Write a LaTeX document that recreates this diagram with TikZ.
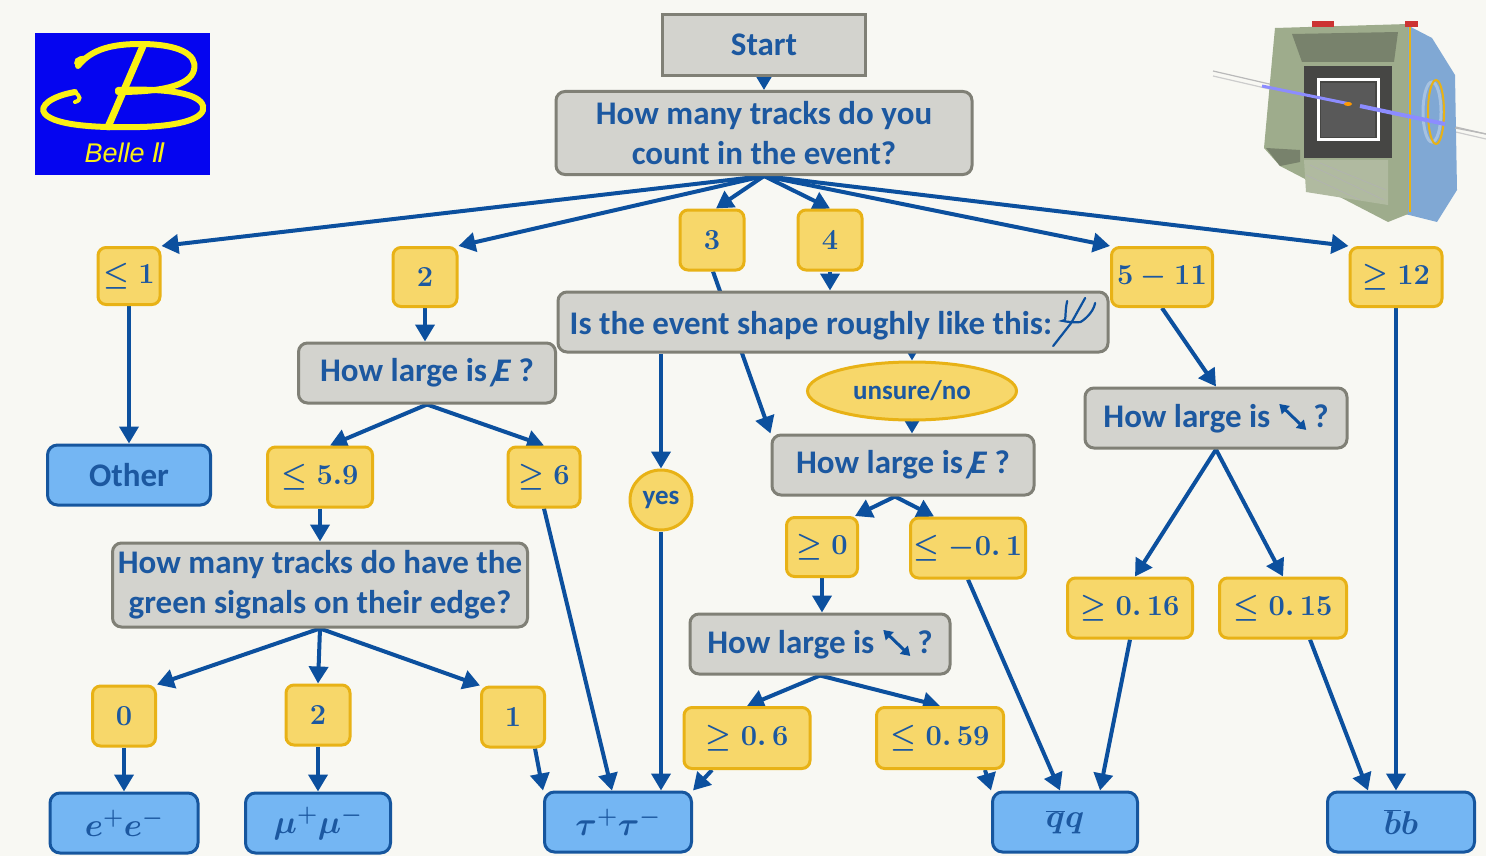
\RequirePackage{fix-cm}
\documentclass[tikz,border=0pt]{standalone}
\usepackage{fontspec}
\setmainfont{Carlito}
\newfontfamily\dejavu{DejaVu Sans}
\newfontfamily\logofont{Liberation Sans}
\usetikzlibrary{arrows.meta,shapes.geometric,calc}

\definecolor{paper}{RGB}{248,248,243}
\definecolor{txt}{RGB}{28,88,160}
\definecolor{wire}{RGB}{12,80,158}
\definecolor{qfill}{RGB}{211,211,206}
\definecolor{qedge}{RGB}{128,128,118}
\definecolor{yfill}{RGB}{247,215,106}
\definecolor{yedge}{RGB}{232,178,22}
\definecolor{tfill}{RGB}{116,182,243}
\definecolor{tedge}{RGB}{22,86,158}
\definecolor{logoblue}{RGB}{5,5,240}
\definecolor{logoyellow}{RGB}{250,240,20}
\definecolor{bodyc}{RGB}{158,172,140}
\definecolor{bodyd}{RGB}{120,130,108}
\definecolor{facec}{RGB}{128,168,212}
\definecolor{innerc}{RGB}{70,70,68}
\definecolor{latticec}{RGB}{176,186,160}

\pgfdeclarelayer{backdrop}
\pgfdeclarelayer{wires}
\pgfsetlayers{backdrop,wires,main}

\newcommand{\qfont}{\fontsize{33}{40}\selectfont\bfseries}
\newcommand{\nfont}{\fontsize{29}{34}\selectfont\boldmath}
% missing transverse energy: slashed italic E
\newcommand{\metE}{\rlap{\kern-0.14em\raisebox{-0.12em}{/}}\textit{E}}
% opening-angle symbol: double-headed diagonal arrow
\newcommand{\angsym}{\tikz[baseline=0pt]\draw[wire,line width=3pt,{Triangle[length=9pt,width=11pt]}-{Triangle[length=9pt,width=11pt]}] (0pt,24pt) -- (27pt,-2pt);}
% event-shape sketch: a track fork
\newcommand{\forksym}{\tikz[baseline=0pt]{\draw[wire,line width=2.2pt,line cap=round] (2pt,-12pt) -- (20pt,11pt);
  \draw[wire,line width=2.2pt,line cap=round] (16pt,33pt) .. controls (13pt,20pt) and (16pt,12pt) .. (20pt,11pt) .. controls (30pt,12pt) and (42pt,20pt) .. (44pt,31pt);
  \draw[wire,line width=2.2pt,line cap=round] (20pt,11pt) -- (34pt,36pt);}}

\tikzset{
  qbox/.style={draw=qedge, fill=qfill, line width=3pt, rounded corners=9pt, text=txt,
    font=\qfont, align=center, inner sep=0pt},
  ybox/.style={draw=yedge, fill=yfill, line width=3pt, rounded corners=8pt, text=txt,
    font=\nfont, inner sep=0pt},
  yoval/.style={ellipse, draw=yedge, fill=yfill, line width=3pt, text=txt,
    font=\fontsize{27}{32}\selectfont\bfseries, inner sep=0pt},
  tbox/.style={draw=tedge, fill=tfill, line width=3pt, rounded corners=10pt, text=txt,
    font=\fontsize{33}{38}\selectfont\boldmath, inner sep=0pt},
  flow/.style={draw=wire, line width=4pt, -{Triangle[length=17pt,width=19pt]}},
  sz/.style 2 args={minimum width=#1pt, minimum height=#2pt},
}

\begin{document}
\begin{tikzpicture}[x=1pt,y=-1pt]
\begin{pgfonlayer}{backdrop}
  \fill[paper] (0,0) rectangle (1486,856);
\end{pgfonlayer}
\useasboundingbox (0,0) rectangle (1486,856);

% ---- Belle II logo ----
\fill[logoblue] (35,33) rectangle (210,175);
\begin{scope}[logoyellow, line cap=round, fill=none]
  \draw[line width=6pt] (78,66) .. controls (92,48) and (115,44) .. (140,44)
     .. controls (178,44) and (198,54) .. (194,70)
     .. controls (190,86) and (160,92) .. (118,92);
  \draw[line width=4pt] (78,66) .. controls (74,62) and (77,57) .. (86,58);
  \draw[line width=6pt] (75,92) .. controls (52,96) and (38,106) .. (45,114)
     .. controls (56,126) and (100,128) .. (140,127)
     .. controls (182,126) and (206,118) .. (203,106)
     .. controls (200,94) and (170,88) .. (118,90);
  \draw[line width=4pt] (75,92) .. controls (80,96) and (82,100) .. (75,102);
  \draw[line width=7pt] (143,46) -- (108,127);
\end{scope}
\node[text=logoyellow, font=\fontsize{27}{30}\selectfont] (logotext) at (125,153)
  {{\logofont\itshape Belle }{\dejavu\itshape Ⅱ}};

% ---- detector sketch ----
\draw[gray!55, line width=1.2pt] (1213,71) -- (1486,134);
\draw[gray!40, line width=1.2pt] (1213,76) -- (1486,139);
\fill[facec] (1405,24) -- (1432,38) -- (1455,75) -- (1457,190) -- (1437,222) -- (1405,214) -- cycle;
\draw[yedge, line width=1.5pt] (1410,27) -- (1410,212);
\fill[bodyc] (1275,28) -- (1408,24) -- (1408,214) -- (1388,222) -- (1280,166) -- (1264,148) -- (1272,60) -- cycle;
\fill[bodyd] (1292,34) -- (1398,32) -- (1394,62) -- (1302,62) -- cycle;
\fill[red!60!gray] (1312,21) rectangle (1334,27);
\fill[red!60!gray] (1405,21) rectangle (1418,27);
\fill[bodyd] (1266,148) -- (1300,150) -- (1300,162) -- (1280,166) -- cycle;
\fill[innerc] (1304,66) -- (1392,66) -- (1392,158) -- (1304,158) -- cycle;
\draw[white, line width=3pt] (1318,80) rectangle (1378,140);
\fill[gray!70!black] (1321,83) rectangle (1375,137);
\fill[latticec] (1304,160) -- (1388,160) -- (1388,205) -- (1306,192) -- cycle;
\draw[gray!60, line width=0.6pt] (1310,165) -- (1384,200) (1320,163) -- (1386,190) (1306,175) -- (1360,200);
\draw[facec!70!white, line width=3pt] (1432,112) ellipse (9pt and 30pt);
\draw[yedge, line width=2pt] (1436,112) ellipse (8pt and 32pt);
\draw[blue!45!white, line width=3pt] (1262,86) -- (1350,104);
\draw[blue!45!white, line width=4pt] (1360,106) -- (1445,124);
\fill[orange!80!yellow] (1348,104) ellipse (4pt and 2pt);
\draw[gray!55, line width=1.2pt] (1455,128) -- (1486,134);

% ---- flow chart nodes ----
\node[qbox, rounded corners=0pt, sz={203}{61}] (start) at (764,45) {Start};
\node[qbox, sz={416}{83}] (q1) at (764,133) {How many tracks do you\\count in the event?};

\node[ybox, sz={62}{57}]  (le1)  at (129,276)  {$\leq 1$};
\node[ybox, sz={64}{59}]  (two)  at (425,277)  {$2$};
\node[ybox, sz={64}{60}]  (three) at (712,240) {$3$};
\node[ybox, sz={64}{60}]  (four) at (830,240)  {$4$};
\node[ybox, sz={101}{59}] (f511) at (1162,277) {$5-11$};
\node[ybox, sz={92}{59}]  (ge12) at (1396,277) {$\geq 12$};

\node[tbox, sz={163}{60}, font=\qfont] (other) at (129,475) {Other};

\node[qbox, sz={257}{60}] (met1) at (427,373) {How large is \metE\ ?};
\node[ybox, sz={105}{60}] (le59) at (320,477) {$\leq 5.9$};
\node[ybox, sz={72}{60}]  (ge6)  at (544,477) {$\geq 6$};
\node[qbox, sz={415}{84}] (q2) at (320,585) {How many tracks do have the\\green signals on their edge?};
\node[ybox, sz={63}{60}]  (zero) at (124,716) {$0$};
\node[ybox, sz={64}{60}]  (twob) at (318,715) {$2$};
\node[ybox, sz={63}{60}]  (one)  at (513,717) {$1$};

\node[tbox, sz={148}{60}] (ee) at (124,823) {$e^+e^-$};
\node[tbox, sz={145}{60}] (mm) at (318,823) {$\mu^+\mu^-$};
\node[tbox, sz={147}{60}] (tt) at (618,822) {$\tau^+\tau^-$};
\node[tbox, sz={145}{60}] (qq) at (1065,822) {$\overline{q}q$};
\node[tbox, sz={147}{60}] (bb) at (1401,822) {$\overline{b}b$};

\node[qbox, sz={550}{60}] (shape) at (833,322) {Is the event shape roughly like this:\forksym};
\node[yoval, sz={62}{60}]  (yes)    at (661,500) {yes};
\node[yoval, sz={209}{58}] (unsure) at (912,391) {unsure/no};
\node[qbox, sz={262}{60}] (met2) at (903,465) {How large is \metE\ ?};
\node[ybox, sz={71}{59}]  (ge0)   at (822,547) {$\geq 0$};
\node[ybox, sz={115}{60}] (lem01) at (968,548) {$\leq -0.\,1$};
\node[qbox, sz={260}{60}] (ang2) at (820,644) {How large is \angsym\,?};
\node[ybox, sz={126}{61}] (ge06)  at (747,738) {$\geq 0.\,6$};
\node[ybox, sz={127}{61}] (le059) at (940,738) {$\leq 0.\,59$};

\node[qbox, sz={262}{60}] (ang1) at (1216,418) {How large is \angsym\,?};
\node[ybox, sz={125}{60}] (ge016) at (1130,608) {$\geq 0.\,16$};
\node[ybox, sz={127}{60}] (le015) at (1283,608) {$\leq 0.\,15$};

% ---- connectors ----
\begin{pgfonlayer}{wires}
  \draw[flow] (start) -- (q1);
  \draw[flow] (q1.south) -- (le1.north east);
  \draw[flow] (q1.south) -- (two.north east);
  \draw[flow] (q1.south) -- ($(three.north)+(4,0)$);
  \draw[flow] (q1.south) -- (four.north);
  \draw[flow] (q1.south) -- (f511.north west);
  \draw[flow] (q1.south) -- (ge12.north west);

  \draw[flow] (le1) -- (other);

  \draw[flow] (two.south) -- (two.south |- met1.north);
  \draw[flow] (met1.south) -- ($(le59.north)+(10,0)$);
  \draw[flow] (met1.south) -- (ge6.north);
  \draw[flow] (le59) -- (q2);
  \draw[flow] (q2.south) -- (zero.north east);
  \draw[flow] (q2.south) -- (twob.north);
  \draw[flow] (q2.south) -- (one.north west);
  \draw[flow] (zero) -- (ee);
  \draw[flow] (twob) -- (mm);
  \draw[flow] ($(one.south)+(22,0)$) -- (tt.north west);
  \draw[flow] (ge6.south) -- ($(tt.north)+(-6,0)$);

  \draw[flow] (four.south) -- (four.south |- shape.north);
  \draw[flow] ($(three.south)+(1,0)$) -- (met2.north west);
  \draw[flow] (yes.north |- shape.south) -- (yes.north);
  \draw[flow] (yes.south) -- (yes.south |- tt.north);
  \draw[flow] (unsure.north |- shape.south) -- (unsure.north);
  \draw[flow] (unsure.south) -- (unsure.south |- met2.north);
  \draw[flow] ($(met2.south)+(-8,0)$) -- ($(ge0.north east)+(-4,0)$);
  \draw[flow] ($(met2.south)+(-8,0)$) -- ($(lem01.north west)+(25,0)$);
  \draw[flow] (ge0.south) -- (ge0.south |- ang2.north);
  \draw[flow] (lem01.south) -- ($(qq.north)+(-5,0)$);
  \draw[flow] (ang2.south) -- (ge06.north);
  \draw[flow] (ang2.south) -- (le059.north);
  \draw[flow] ($(ge06.south)+(-35,0)$) -- (tt.north east);
  \draw[flow] ($(le059.south)+(45,0)$) -- (qq.north west);

  \draw[flow] (f511.south) -- (ang1.north);
  \draw[flow] (ang1.south) -- ($(ge016.north)+(5,0)$);
  \draw[flow] (ang1.south) -- (le015.north);
  \draw[flow] (ge016.south) -- ($(qq.north)+(35,0)$);
  \draw[flow] ($(le015.south)+(27,0)$) -- ($(bb.north)+(-33,0)$);
  \draw[flow] (ge12.south) -- (ge12.south |- bb.north);
\end{pgfonlayer}
\end{tikzpicture}
\end{document}
